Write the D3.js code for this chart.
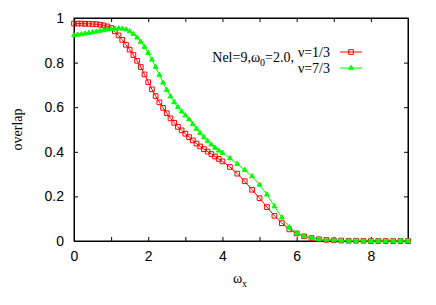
<!DOCTYPE html>
<html>
<head>
<meta charset="utf-8">
<style>
  body { margin: 0; background: #fff; }
  svg { display: block; font-family: "Liberation Serif", "DejaVu Serif", serif; }
  .tick text { font-size: 14px; }
</style>
</head>
<body>
<svg id="plot"></svg>
<script src="https://d3js.org/d3.v7.min.js"></script>
<script>
// omega_x values: 0.1 steps to 4, then 0.2 steps to 9
var omegaX = [0,0.1,0.2,0.3,0.4,0.5,0.6,0.7,0.8,0.9,1.0,1.1,1.2,1.3,1.4,1.5,1.6,1.7,1.8,1.9,
  2.0,2.1,2.2,2.3,2.4,2.5,2.6,2.7,2.8,2.9,3.0,3.1,3.2,3.3,3.4,3.5,3.6,3.7,3.8,3.9,4.0,
  4.2,4.4,4.6,4.8,5.0,5.2,5.4,5.6,5.8,6.0,6.2,6.4,6.6,6.8,7.0,7.2,7.4,7.6,7.8,8.0,
  8.2,8.4,8.6,8.8,9.0];

// nu = 1/3
var overlapNu13 = [0.975,0.975,0.975,0.974,0.974,0.973,0.972,0.970,0.967,0.962,0.955,0.940,0.922,0.902,0.880,0.858,0.834,0.808,0.780,0.747,
  0.712,0.680,0.650,0.622,0.597,0.573,0.550,0.530,0.512,0.496,0.481,0.466,0.451,0.437,0.424,0.412,0.401,0.390,0.379,0.368,0.357,
  0.332,0.302,0.268,0.230,0.192,0.152,0.113,0.080,0.052,0.034,0.021,0.013,0.008,0.005,0.003,0.002,0.001,0.001,0.001,0.000,
  0.000,0.000,0.000,0.000,0.000];

// nu = 7/3
var overlapNu73 = [0.922,0.925,0.927,0.930,0.933,0.936,0.939,0.942,0.945,0.948,0.950,0.952,0.953,0.952,0.948,0.940,0.928,0.912,0.893,0.870,
  0.843,0.813,0.780,0.745,0.710,0.677,0.648,0.622,0.600,0.580,0.563,0.545,0.524,0.503,0.483,0.465,0.448,0.432,0.418,0.405,0.395,
  0.371,0.345,0.318,0.290,0.252,0.208,0.155,0.105,0.062,0.036,0.021,0.013,0.008,0.005,0.003,0.002,0.001,0.001,0.001,0.000,
  0.000,0.000,0.000,0.000,0.000];

var xTicks = [0,1,2,3,4,5,6,7,8,9];
var yTicks = [0,0.2,0.4,0.6,0.8,1];

var screen = {width:436, height:305};
var margins = {top:18, bottom:64, left:74, right:28};
var graph = {
    width: screen.width - margins.left - margins.right,
    height: screen.height - margins.top - margins.bottom
};

var svg = d3.select("#plot")
    .attr("width", screen.width)
    .attr("height", screen.height);

var xScale = d3.scaleLinear().domain([0,9]).range([margins.left, margins.left + graph.width]);
var yScale = d3.scaleLinear().domain([0,1]).range([margins.top + graph.height, margins.top]);

var tickLen = 4;

//bottom axis with labels on even values
svg.append("g")
    .attr("transform","translate(0,"+yScale(0)+")")
    .call(d3.axisBottom(xScale).tickValues(xTicks).tickSizeInner(-tickLen).tickSizeOuter(0).tickPadding(10)
        .tickFormat(function(d){ return d % 2 === 0 ? d : ""; }));

//top axis, ticks only
svg.append("g")
    .attr("transform","translate(0,"+yScale(1)+")")
    .call(d3.axisTop(xScale).tickValues(xTicks).tickSizeInner(-tickLen).tickSizeOuter(0).tickFormat(""));

//left axis
svg.append("g")
    .attr("transform","translate("+xScale(0)+",0)")
    .call(d3.axisLeft(yScale).tickValues(yTicks).tickSizeInner(-tickLen).tickSizeOuter(0).tickPadding(10)
        .tickFormat(function(d){ return d3.format("")(+d.toFixed(1)); }));

//right axis
svg.append("g")
    .attr("transform","translate("+xScale(9)+",0)")
    .call(d3.axisRight(yScale).tickValues(yTicks).tickSizeInner(-tickLen).tickSizeOuter(0).tickFormat(""));

svg.selectAll(".domain").attr("stroke","#000");
svg.selectAll(".tick line").attr("stroke","#000");
svg.selectAll(".tick text").attr("fill","#000");

//border box
svg.append("rect")
    .attr("x", xScale(0)).attr("y", yScale(1))
    .attr("width", xScale(9)-xScale(0)).attr("height", yScale(0)-yScale(1))
    .attr("fill","none").attr("stroke","#000").attr("stroke-width",1);

var series = [
    {values: overlapNu13, color: "#ff0000", symbol: d3.symbolSquare, size: 22, fill: "none"},
    {values: overlapNu73, color: "#00ff00", symbol: d3.symbolTriangle, size: 10, fill: "#00ff00"}
];

var line = d3.line()
    .x(function(d){ return xScale(d[0]); })
    .y(function(d){ return yScale(d[1]); });

series.forEach(function(s)
{
    var pts = omegaX.map(function(x,i){ return [x, s.values[i]]; });
    svg.append("path")
        .datum(pts)
        .attr("d", line)
        .attr("fill","none")
        .attr("stroke", s.color)
        .attr("stroke-width",1);
    svg.append("g").selectAll("path")
        .data(pts)
        .enter()
        .append("path")
        .attr("transform", function(d){ return "translate("+xScale(d[0])+","+yScale(d[1])+")"; })
        .attr("d", d3.symbol().type(s.symbol).size(s.size))
        .attr("fill", s.fill)
        .attr("stroke", s.color)
        .attr("stroke-width",1);
});

//legend
var legend = svg.append("g").attr("font-size",14);
var t1 = legend.append("text")
    .attr("x",294).attr("y",62).attr("text-anchor","end");
t1.append("tspan").text("Nel=9,ω");
t1.append("tspan").attr("font-size",10).attr("dy",4).text("0");
t1.append("tspan").attr("dy",-4).text("=2.0,");
legend.append("text").attr("x",330).attr("y",57).attr("text-anchor","end").text("ν=1/3");
legend.append("text").attr("x",330).attr("y",73).attr("text-anchor","end").text("ν=7/3");

[[52, series[0]],[68, series[1]]].forEach(function(e)
{
    legend.append("line")
        .attr("x1",340).attr("x2",362).attr("y1",e[0]).attr("y2",e[0])
        .attr("stroke", e[1].color).attr("stroke-width",1);
    legend.append("path")
        .attr("transform","translate(351,"+e[0]+")")
        .attr("d", d3.symbol().type(e[1].symbol).size(e[1].size))
        .attr("fill", e[1].fill)
        .attr("stroke", e[1].color);
});

//axis titles
svg.append("text")
    .attr("transform","translate(22,"+(margins.top + graph.height/2)+") rotate(-90)")
    .attr("text-anchor","middle")
    .attr("font-size",14)
    .text("overlap");

var xt = svg.append("text")
    .attr("x",240).attr("y",283)
    .attr("text-anchor","middle")
    .attr("font-size",14);
xt.append("tspan").text("ω");
xt.append("tspan").attr("font-size",10).attr("dy",4).text("x");
</script>
</body>
</html>
